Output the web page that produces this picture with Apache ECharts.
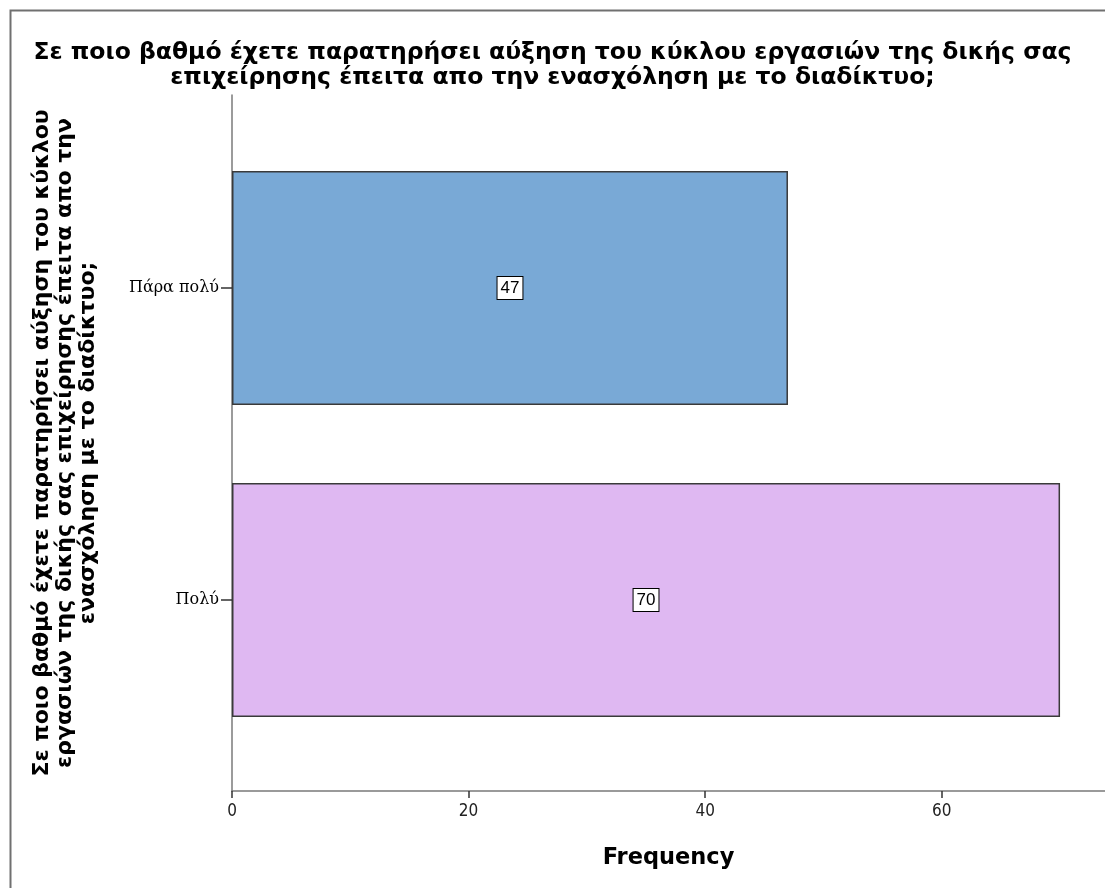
<!DOCTYPE html>
<html>
<head>
<meta charset="utf-8">
<script src="https://cdn.jsdelivr.net/npm/echarts@6/dist/echarts.min.js"></script>
<style>
  html, body { margin: 0; padding: 0; background: #fff; }
  #chart { width: 1105px; height: 888px; }
</style>
</head>
<body>
<div id="chart"></div>
<script>
// data
var categories = ['Πάρα πολύ', 'Πολύ'];
var frequency = [47, 70];
var barColors = ['#79a9d6', '#dfb8f2'];
var xTicks = [0, 20, 40, 60];

var titleText = 'Σε ποιο βαθμό έχετε παρατηρήσει αύξηση του κύκλου εργασιών της δικής σας\nεπιχείρησης έπειτα απο την ενασχόληση με το διαδίκτυο;';
var yName = 'Σε ποιο βαθμό έχετε παρατηρήσει αύξηση του κύκλου\nεργασιών της δικής σας επιχείρησης έπειτα απο την\nενασχόληση με το διαδίκτυο;';

var chart = echarts.init(document.getElementById('chart'));

var xMax = 73.8;

var option = {
  backgroundColor: '#fff',
  animation: false,
  title: {
    text: titleText,
    left: 'center',
    top: 35,
    textStyle: {
      fontFamily: 'DejaVu Sans',
      fontWeight: 'bold',
      fontSize: 23.5,
      lineHeight: 25,
      color: '#000',
      align: 'center'
    }
  },
  graphic: [{
    // outer frame (spss output border)
    type: 'rect',
    left: 8, top: 8,
    shape: { width: 1200, height: 1000 },
    style: { fill: 'none', stroke: '#707070', lineWidth: 2 },
    silent: true
  }],
  grid: [
    // axis frame
    { left: 232, right: 0, top: 95, bottom: 97, outerBoundsMode: 'none' },
    // bars
    { left: 232, right: 0, top: 132, bottom: 132, outerBoundsMode: 'none' }
  ],
  xAxis: [{
    gridIndex: 0,
    type: 'value',
    min: 0, max: xMax,
    name: 'Frequency',
    nameLocation: 'middle',
    nameGap: 56,
    nameTextStyle: { fontFamily: 'DejaVu Sans', fontWeight: 'bold', fontSize: 22.5, color: '#000' },
    axisLine: { show: true, lineStyle: { color: '#7a7a7a', width: 1.5 } },
    axisTick: { show: true, length: 7, customValues: xTicks, lineStyle: { color: '#333', width: 1.5 } },
    axisLabel: { customValues: xTicks, margin: 12, fontFamily: 'DejaVu Sans Condensed', fontSize: 17, color: '#222' },
    splitLine: { show: false }
  }, {
    gridIndex: 1,
    type: 'value',
    min: 0, max: xMax,
    show: false
  }],
  yAxis: [{
    gridIndex: 0,
    type: 'value',
    name: yName,
    nameLocation: 'middle',
    nameRotate: 90,
    nameGap: 132,
    nameTextStyle: { fontFamily: 'DejaVu Sans', fontWeight: 'bold', fontSize: 22, lineHeight: 23, color: '#000', align: 'center' },
    axisLine: { show: true, lineStyle: { color: '#7a7a7a', width: 1.5 } },
    axisTick: { show: false },
    axisLabel: { show: false },
    splitLine: { show: false }
  }, {
    gridIndex: 1,
    type: 'category',
    data: categories,
    inverse: true,
    axisLine: { show: false },
    axisTick: { show: true, alignWithLabel: true, length: 11, lineStyle: { color: '#333', width: 1.5 } },
    axisLabel: { margin: 13, fontFamily: 'DejaVu Serif', fontSize: 16, color: '#000' }
  }],
  series: [{
    type: 'bar',
    xAxisIndex: 1,
    yAxisIndex: 1,
    barWidth: '75%',
    data: frequency.map(function (v, i) {
      return { value: v, itemStyle: { color: barColors[i] } };
    }),
    itemStyle: { borderColor: '#3a3a3a', borderWidth: 1.5 },
    label: {
      show: true,
      position: 'inside',
      fontFamily: 'Liberation Sans',
      fontSize: 17,
      color: '#000',
      backgroundColor: '#fff',
      borderColor: '#000',
      borderWidth: 1,
      padding: [3, 3, 2, 3]
    }
  }]
};

chart.setOption(option);
</script>
</body>
</html>
